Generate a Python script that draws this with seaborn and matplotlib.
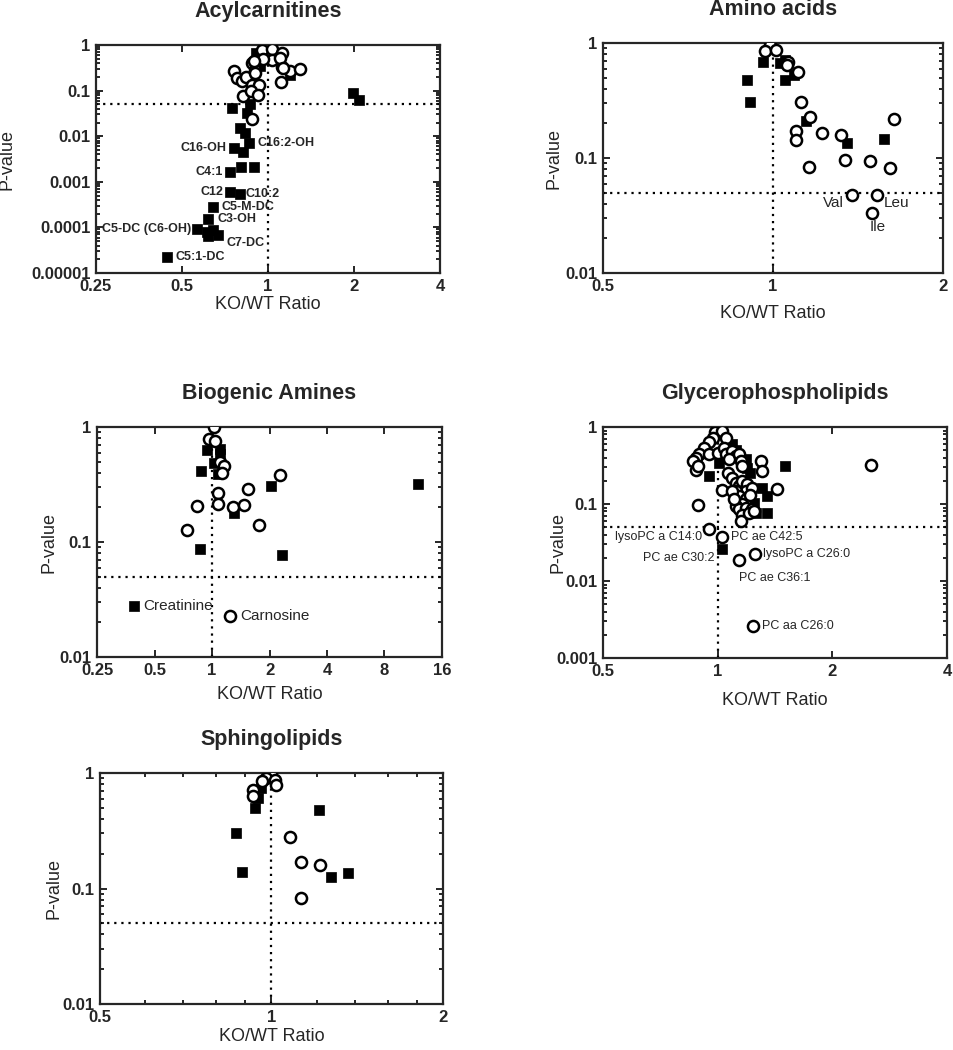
import numpy as np
import pandas as pd
import matplotlib
matplotlib.use('Agg')
import matplotlib.pyplot as plt
import matplotlib.ticker as mticker
import seaborn as sns

# ---- data (KO/WT ratio, P-value) ----
acyl_sq_x = [0.75, 0.865, 0.843, 0.80, 0.831, 0.856, 0.76, 0.82, 0.804, 0.896, 0.736, 0.736, 0.80,
             0.644, 0.618, 0.563, 0.61, 0.64, 0.618, 0.67, 0.442, 1.98, 2.08, 1.19, 0.89, 0.91, 1.0, 0.94]
acyl_sq_p = [0.042, 0.051, 0.032, 0.0149, 0.0116, 0.0072, 0.0054, 0.0044, 0.0021, 0.0021, 0.00167, 0.00059,
             0.00053, 0.00028, 0.000153, 0.000091, 0.00008, 0.000087, 0.000065, 0.000068, 0.0000228,
             0.089, 0.062, 0.22, 0.42, 0.66, 0.98, 0.35]
acyl_ci_x = [1.0, 0.98, 1.02, 0.95, 1.03, 1.12, 0.925, 1.03, 0.877, 0.90, 1.12, 1.19, 1.29, 1.11, 0.76,
             0.78, 0.81, 0.84, 0.877, 0.93, 0.82, 0.87, 0.925, 0.877, 1.10, 0.96, 0.89, 1.125, 0.90]
acyl_ci_p = [1.0, 0.95, 0.97, 0.78, 0.80, 0.68, 0.47, 0.47, 0.41, 0.28, 0.33, 0.27, 0.30, 0.155, 0.27,
             0.186, 0.16, 0.20, 0.133, 0.133, 0.077, 0.10, 0.08, 0.024, 0.51, 0.49, 0.45, 0.32, 0.24]
acyl_labels = ['C16:2-OH', 'C16-OH', 'C4:1', 'C12', 'C10:2', 'C5-M-DC', 'C3-OH', 'C5-DC (C6-OH)', 'C7-DC', 'C5:1-DC']
acyl_lab_x = [0.856, 0.76, 0.736, 0.736, 0.80, 0.644, 0.618, 0.563, 0.67, 0.442]
acyl_lab_p = [0.0072, 0.0054, 0.00167, 0.00059, 0.00053, 0.00028, 0.000153, 0.000091, 0.000068, 0.0000228]

amino_sq_x = [0.96, 0.90, 0.911, 1.03, 1.05, 1.05, 1.09, 1.146, 1.35, 1.57]
amino_sq_p = [0.68, 0.48, 0.31, 0.67, 0.71, 0.48, 0.53, 0.21, 0.134, 0.146]
amino_ci_x = [0.99, 0.97, 1.014, 1.065, 1.06, 1.108, 1.123, 1.164, 1.10, 1.10, 1.22, 1.32, 1.16, 1.34,
              1.488, 1.61, 1.64, 1.38, 1.53, 1.496]
amino_ci_p = [0.96, 0.85, 0.87, 0.69, 0.64, 0.56, 0.31, 0.228, 0.173, 0.143, 0.166, 0.158, 0.084, 0.096,
              0.094, 0.082, 0.218, 0.048, 0.048, 0.033]
amino_labels = ['Val', 'Leu', 'Ile']
amino_lab_x = [1.38, 1.53, 1.496]
amino_lab_p = [0.048, 0.048, 0.033]

bio_sq_x = [0.94, 1.105, 1.096, 1.03, 0.88, 1.08, 2.04, 1.30, 0.87, 2.33, 0.39, 12.0]
bio_sq_p = [0.63, 0.65, 0.58, 0.486, 0.415, 0.39, 0.31, 0.177, 0.087, 0.077, 0.0278, 0.32]
bio_ci_x = [1.03, 0.96, 1.04, 1.096, 1.15, 1.13, 2.28, 1.08, 1.535, 1.08, 0.835, 1.29, 1.476, 0.74, 1.77, 1.247]
bio_ci_p = [1.0, 0.78, 0.75, 0.50, 0.458, 0.40, 0.38, 0.267, 0.29, 0.216, 0.204, 0.20, 0.21, 0.126, 0.142, 0.0226]
bio_labels = ['Creatinine', 'Carnosine']
bio_lab_x = [0.39, 1.247]
bio_lab_p = [0.0278, 0.0226]

gly_sq_x = [1.01, 1.094, 1.117, 1.062, 1.197, 1.22, 1.246, 1.259, 1.31, 1.35, 1.35, 1.507, 0.951, 1.03, 1.186]
gly_sq_p = [0.34, 0.60, 0.51, 0.40, 0.296, 0.255, 0.104, 0.077, 0.163, 0.126, 0.077, 0.31, 0.23, 0.0263, 0.38]
gly_ci_x = [1.0, 0.985, 1.03, 0.97, 1.05, 0.95, 0.923, 0.896, 0.878, 0.86, 0.878, 0.887, 0.951, 1.0, 1.04,
            1.05, 1.094, 1.117, 1.073, 1.139, 1.15, 1.162, 1.062, 1.094, 1.117, 1.139, 1.162, 1.197, 1.186,
            1.234, 1.117, 1.139, 1.186, 1.162, 1.117, 1.139, 1.186, 1.234, 1.162, 1.15, 1.21, 1.246, 1.298,
            1.31, 1.434, 0.887, 1.03, 1.094, 1.105, 1.22, 2.53,
            0.95, 1.03, 1.25, 1.14, 1.24]
gly_ci_p = [1.0, 0.86, 0.88, 0.73, 0.73, 0.63, 0.54, 0.44, 0.40, 0.36, 0.28, 0.31, 0.45, 0.46, 0.54,
            0.44, 0.49, 0.42, 0.38, 0.44, 0.36, 0.31, 0.255, 0.22, 0.189, 0.17, 0.198, 0.18, 0.147,
            0.163, 0.147, 0.126, 0.115, 0.099, 0.094, 0.085, 0.089, 0.085, 0.073, 0.060, 0.077, 0.081, 0.36,
            0.267, 0.155, 0.096, 0.15, 0.147, 0.115, 0.13, 0.326,
            0.0475, 0.0374, 0.0225, 0.019, 0.0026]
gly_labels = ['lysoPC a C14:0', 'PC ae C42:5', 'PC ae C30:2', 'lysoPC a C26:0', 'PC ae C36:1', 'PC aa C26:0']
gly_lab_x = [0.95, 1.03, 1.03, 1.25, 1.14, 1.24]
gly_lab_p = [0.0475, 0.0374, 0.0263, 0.0225, 0.019, 0.0026]

sph_sq_x = [0.96, 0.947, 0.937, 1.21, 0.866, 0.888, 1.27, 1.36]
sph_sq_p = [0.74, 0.607, 0.497, 0.48, 0.302, 0.14, 0.125, 0.136]
sph_ci_x = [1.0, 0.977, 1.013, 0.964, 1.017, 0.928, 0.928, 1.077, 1.129, 1.219, 1.129]
sph_ci_p = [1.0, 0.905, 0.875, 0.846, 0.79, 0.707, 0.636, 0.277, 0.171, 0.16, 0.082]

# ---- style ----
sns.set_style('ticks')
plt.rcParams['font.family'] = ['Liberation Sans', 'DejaVu Sans']
plt.rcParams['axes.linewidth'] = 1.6

fig = plt.figure(figsize=(9.54, 10.5), dpi=100)


def yfmt(v, pos):
    n = max(0, -int(np.floor(np.log10(v) + 1e-9)))
    return f'{v:.{n}f}'


def panel(rect, title, sq_x, sq_p, ci_x, ci_p, xlim, ylim, xticks, ylab_x, xlab_pad=6,
          labels=(), lab_x=(), lab_p=(), offsets=(), lab_size=11, lab_weight='normal', xminor=None):
    ax = fig.add_axes(rect)
    sq = pd.DataFrame({'ratio': sq_x, 'p': sq_p})
    ci = pd.DataFrame({'ratio': ci_x, 'p': ci_p})
    sns.scatterplot(data=sq, x='ratio', y='p', marker='s', s=46, color='black',
                    edgecolor='black', linewidth=0.5, ax=ax, zorder=3)
    sns.scatterplot(data=ci, x='ratio', y='p', marker='o', s=64, facecolor='white',
                    edgecolor='black', linewidth=1.8, ax=ax, zorder=4)
    ax.set_xscale('log', base=2)
    ax.set_yscale('log')
    ax.set_xlim(*xlim)
    ax.set_ylim(*ylim)
    ax.axvline(1, color='black', ls=(0, (1, 2.2)), lw=1.6, zorder=2)
    ax.axhline(0.05, color='black', ls=(0, (1, 2.2)), lw=1.6, zorder=2)
    ax.xaxis.set_major_locator(mticker.FixedLocator(xticks))
    ax.xaxis.set_major_formatter(mticker.FuncFormatter(lambda v, pos: f'{v:g}'))
    if xminor:
        ax.xaxis.set_minor_locator(mticker.FixedLocator(xminor))
    else:
        ax.xaxis.set_minor_locator(mticker.NullLocator())
    ax.xaxis.set_minor_formatter(mticker.NullFormatter())
    ax.yaxis.set_major_locator(mticker.LogLocator(base=10))
    ax.yaxis.set_minor_locator(mticker.LogLocator(base=10, subs=np.arange(2, 10)))
    ax.yaxis.set_major_formatter(mticker.FuncFormatter(yfmt))
    ax.yaxis.set_minor_formatter(mticker.NullFormatter())
    ax.tick_params(which='both', direction='in', top=True, right=True, width=1.4)
    ax.tick_params(which='major', length=5, labelsize=12, pad=4)
    ax.tick_params(which='minor', length=3)
    for lab in ax.get_xticklabels() + ax.get_yticklabels():
        lab.set_fontweight('bold')
    for sp in ax.spines.values():
        sp.set_visible(True)
        sp.set_linewidth(1.6)
    ax.set_title(title, fontsize=15.5, fontweight='bold', pad=20)
    ax.set_xlabel('KO/WT Ratio', fontsize=13, labelpad=xlab_pad)
    ax.set_ylabel('P-value', fontsize=13)
    ax.yaxis.set_label_coords(ylab_x, 0.5)
    for t, x, p, (dx, dy, ha) in zip(labels, lab_x, lab_p, offsets):
        ax.annotate(t, (x, p), xytext=(dx, dy), textcoords='offset points', ha=ha, va='center',
                    fontsize=lab_size, fontweight=lab_weight, zorder=5)
    return ax


acyl_off = [(6, 0, 'left'), (-5, 0, 'right'), (-5, 0, 'right'), (-5, 0, 'right'), (4, 0, 'left'),
            (6, 0, 'left'), (7, 0, 'left'), (-4, 0, 'right'), (6, -6, 'left'), (6, 0, 'left')]
amino_off = [(-6, -6, 'right'), (5, -6, 'left'), (4, -10, 'center')]
bio_off = [(7, 0, 'left'), (7, 0, 'left')]
gly_off = [(-5, -6, 'right'), (6, 0, 'left'), (-6, -7, 'right'), (6, 0, 'left'), (0, -13, 'left'), (6, 0, 'left')]

panel([0.1006, 0.74, 0.3606, 0.2171], 'Acylcarnitines', acyl_sq_x, acyl_sq_p, acyl_ci_x, acyl_ci_p,
      (0.25, 4), (1e-5, 1), [0.25, 0.5, 1, 2, 4], -0.235, 2,
      acyl_labels, acyl_lab_x, acyl_lab_p, acyl_off, lab_size=9, lab_weight='bold')
panel([0.632, 0.74, 0.3564, 0.219], 'Amino acids', amino_sq_x, amino_sq_p, amino_ci_x, amino_ci_p,
      (0.5, 2), (0.01, 1), [0.5, 1, 2], -0.12, 8,
      amino_labels, amino_lab_x, amino_lab_p, amino_off, lab_size=11)
panel([0.1017, 0.3743, 0.3616, 0.219], 'Biogenic Amines', bio_sq_x, bio_sq_p, bio_ci_x, bio_ci_p,
      (0.25, 16), (0.01, 1), [0.25, 0.5, 1, 2, 4, 8, 16], -0.116, 6,
      bio_labels, bio_lab_x, bio_lab_p, bio_off, lab_size=11)
panel([0.632, 0.3733, 0.3606, 0.22], 'Glycerophospholipids', gly_sq_x, gly_sq_p, gly_ci_x, gly_ci_p,
      (0.5, 4), (0.001, 1), [0.5, 1, 2, 4], -0.105, 9.5,
      gly_labels, gly_lab_x, gly_lab_p, gly_off, lab_size=9)
panel([0.1048, 0.0438, 0.3595, 0.22], 'Sphingolipids', sph_sq_x, sph_sq_p, sph_ci_x, sph_ci_p,
      (0.5, 2), (0.01, 1), [0.5, 1, 2], -0.11, 2.5,
      xminor=[0.6, 0.7, 0.8, 0.9, 1.2, 1.4, 1.6, 1.8])

fig.savefig('out.png', dpi=100)
